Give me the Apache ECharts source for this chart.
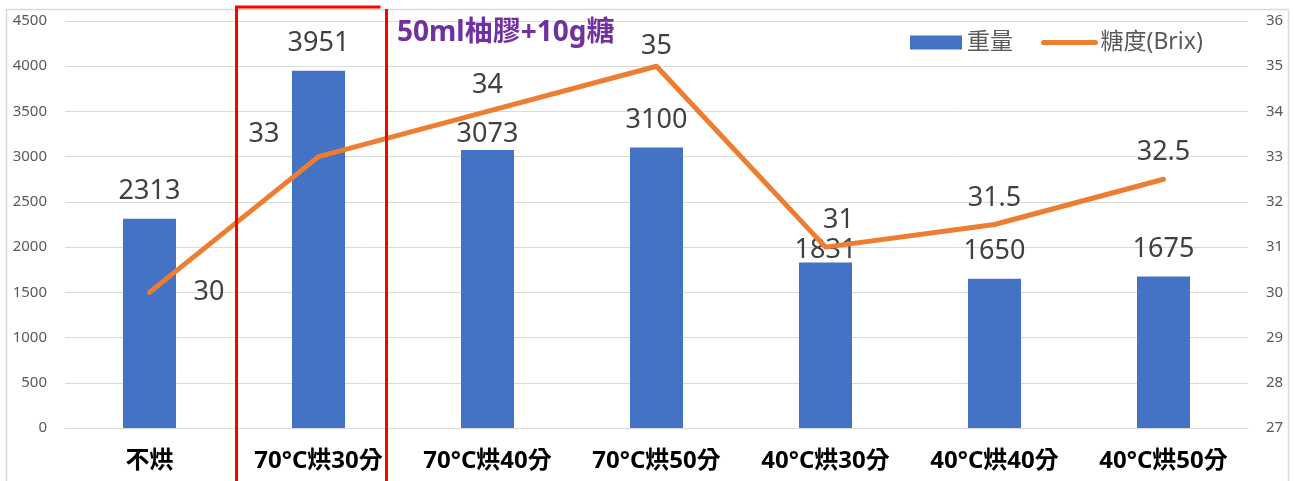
<!DOCTYPE html>
<html>
<head>
<meta charset="utf-8">
<script src="https://cdn.jsdelivr.net/npm/echarts@6/dist/echarts.min.js"></script>
<style>
  html, body { margin: 0; padding: 0; background: #fff; }
  #chart { width: 1295px; height: 481px; }
</style>
</head>
<body>
<div id="chart"></div>
<script>
// Drying conditions on the x axis
const categories = ['不烘', '70°C烘30分', '70°C烘40分', '70°C烘50分', '40°C烘30分', '40°C烘40分', '40°C烘50分'];
// Weight (left axis, bars)
const weights = [2313, 3951, 3073, 3100, 1831, 1650, 1675];
// Sugar content in Brix (right axis, line)
const brix = [30, 33, 34, 35, 31, 31.5, 32.5];
const titleText = '50ml柚膠+10g糖';
const highlightIndex = 1;

const FONT = "'Noto Sans', 'Noto Sans CJK TC', sans-serif";
const BLUE = '#4472C4';
const ORANGE = '#ED7D31';
const LABEL = '#404040';
const AXIS = '#595959';
const GRID = '#d9d9d9';

// a few labels are nudged so they do not collide with the line
const barLabelOffsets = { 2: [0, 12], 4: [0, 15] };
const lineLabelStyles = {
  0: { position: 'right', distance: 43, offset: [0, 0] },
  1: { position: 'left', distance: 38, offset: [0, -22] },
  3: { position: 'top', distance: 5 },
  4: { position: 'top', offset: [13, 0] }
};

const chart = echarts.init(document.getElementById('chart'));

const option = {
  animation: false,
  backgroundColor: '#fff',
  textStyle: { fontFamily: FONT },
  grid: { left: 65, right: 47, top: 21, bottom: 53 },
  legend: {
    left: 905, top: 26,
    itemWidth: 52, itemHeight: 14, itemGap: 28,
    textStyle: { fontFamily: FONT, fontSize: 23, color: AXIS },
    data: [
      { name: '重量', icon: 'rect' },
      { name: '糖度(Brix)', itemStyle: { opacity: 0 }, lineStyle: { width: 5, cap: 'round' } }
    ]
  },
  xAxis: {
    type: 'category',
    data: categories,
    axisLine: { show: true, lineStyle: { color: GRID, width: 1 } },
    axisTick: { show: false },
    axisLabel: { fontFamily: FONT, fontSize: 24, fontWeight: 'bold', color: '#000', margin: 21 }
  },
  yAxis: [
    {
      type: 'value', min: 0, max: 4500, interval: 500,
      axisLine: { show: false }, axisTick: { show: false },
      splitLine: { lineStyle: { color: GRID, width: 1 } },
      axisLabel: { fontFamily: FONT, fontSize: 15, color: AXIS, margin: 18, formatter: v => String(v) }
    },
    {
      type: 'value', min: 27, max: 36, interval: 1,
      axisLine: { show: false }, axisTick: { show: false },
      splitLine: { show: false },
      axisLabel: { fontFamily: FONT, fontSize: 15, color: AXIS, margin: 18, formatter: v => String(v) }
    }
  ],
  series: [
    {
      name: '重量', type: 'bar', yAxisIndex: 0, barWidth: 53,
      itemStyle: { color: BLUE },
      data: weights.map((v, i) => ({
        value: v,
        label: barLabelOffsets[i] ? { offset: barLabelOffsets[i] } : undefined
      })),
      label: { show: true, position: 'top', distance: 14, fontFamily: FONT, fontSize: 27, color: LABEL }
    },
    {
      name: '糖度(Brix)', type: 'line', yAxisIndex: 1,
      symbol: 'circle', symbolSize: 2, showSymbol: true,
      itemStyle: { color: ORANGE },
      lineStyle: { color: ORANGE, width: 5, cap: 'round', join: 'round' },
      data: brix.map((v, i) => ({ value: v, label: lineLabelStyles[i] })),
      label: { show: true, position: 'top', distance: 12, fontFamily: FONT, fontSize: 27, color: LABEL },
      z: 5
    }
  ]
};

chart.setOption(option);

// Outer frame, title text and the red box around the highlighted group
const cx = chart.convertToPixel({ xAxisIndex: 0 }, highlightIndex);
chart.setOption({
  graphic: [
    { type: 'rect', shape: { x: 6.5, y: 9.5, width: 1282, height: 480 },
      style: { fill: 'none', stroke: GRID, lineWidth: 1.5 }, z: -1 },
    { type: 'text', left: 397, top: 19,
      style: { text: titleText, fontFamily: FONT, fontSize: 28, fontWeight: 'bold', fill: '#7030A0' } },
    { type: 'line', shape: { x1: cx - 82, y1: 7, x2: cx - 82, y2: 490 },
      style: { stroke: '#FF0000', lineWidth: 3 }, z: 10 },
    { type: 'line', shape: { x1: cx - 83.5, y1: 7, x2: cx + 62, y2: 7 },
      style: { stroke: '#FF0000', lineWidth: 3 }, z: 10 },
    { type: 'line', shape: { x1: cx + 68, y1: 9, x2: cx + 68, y2: 490 },
      style: { stroke: '#FF0000', lineWidth: 3 }, z: 10 }
  ]
});
</script>
</body>
</html>
